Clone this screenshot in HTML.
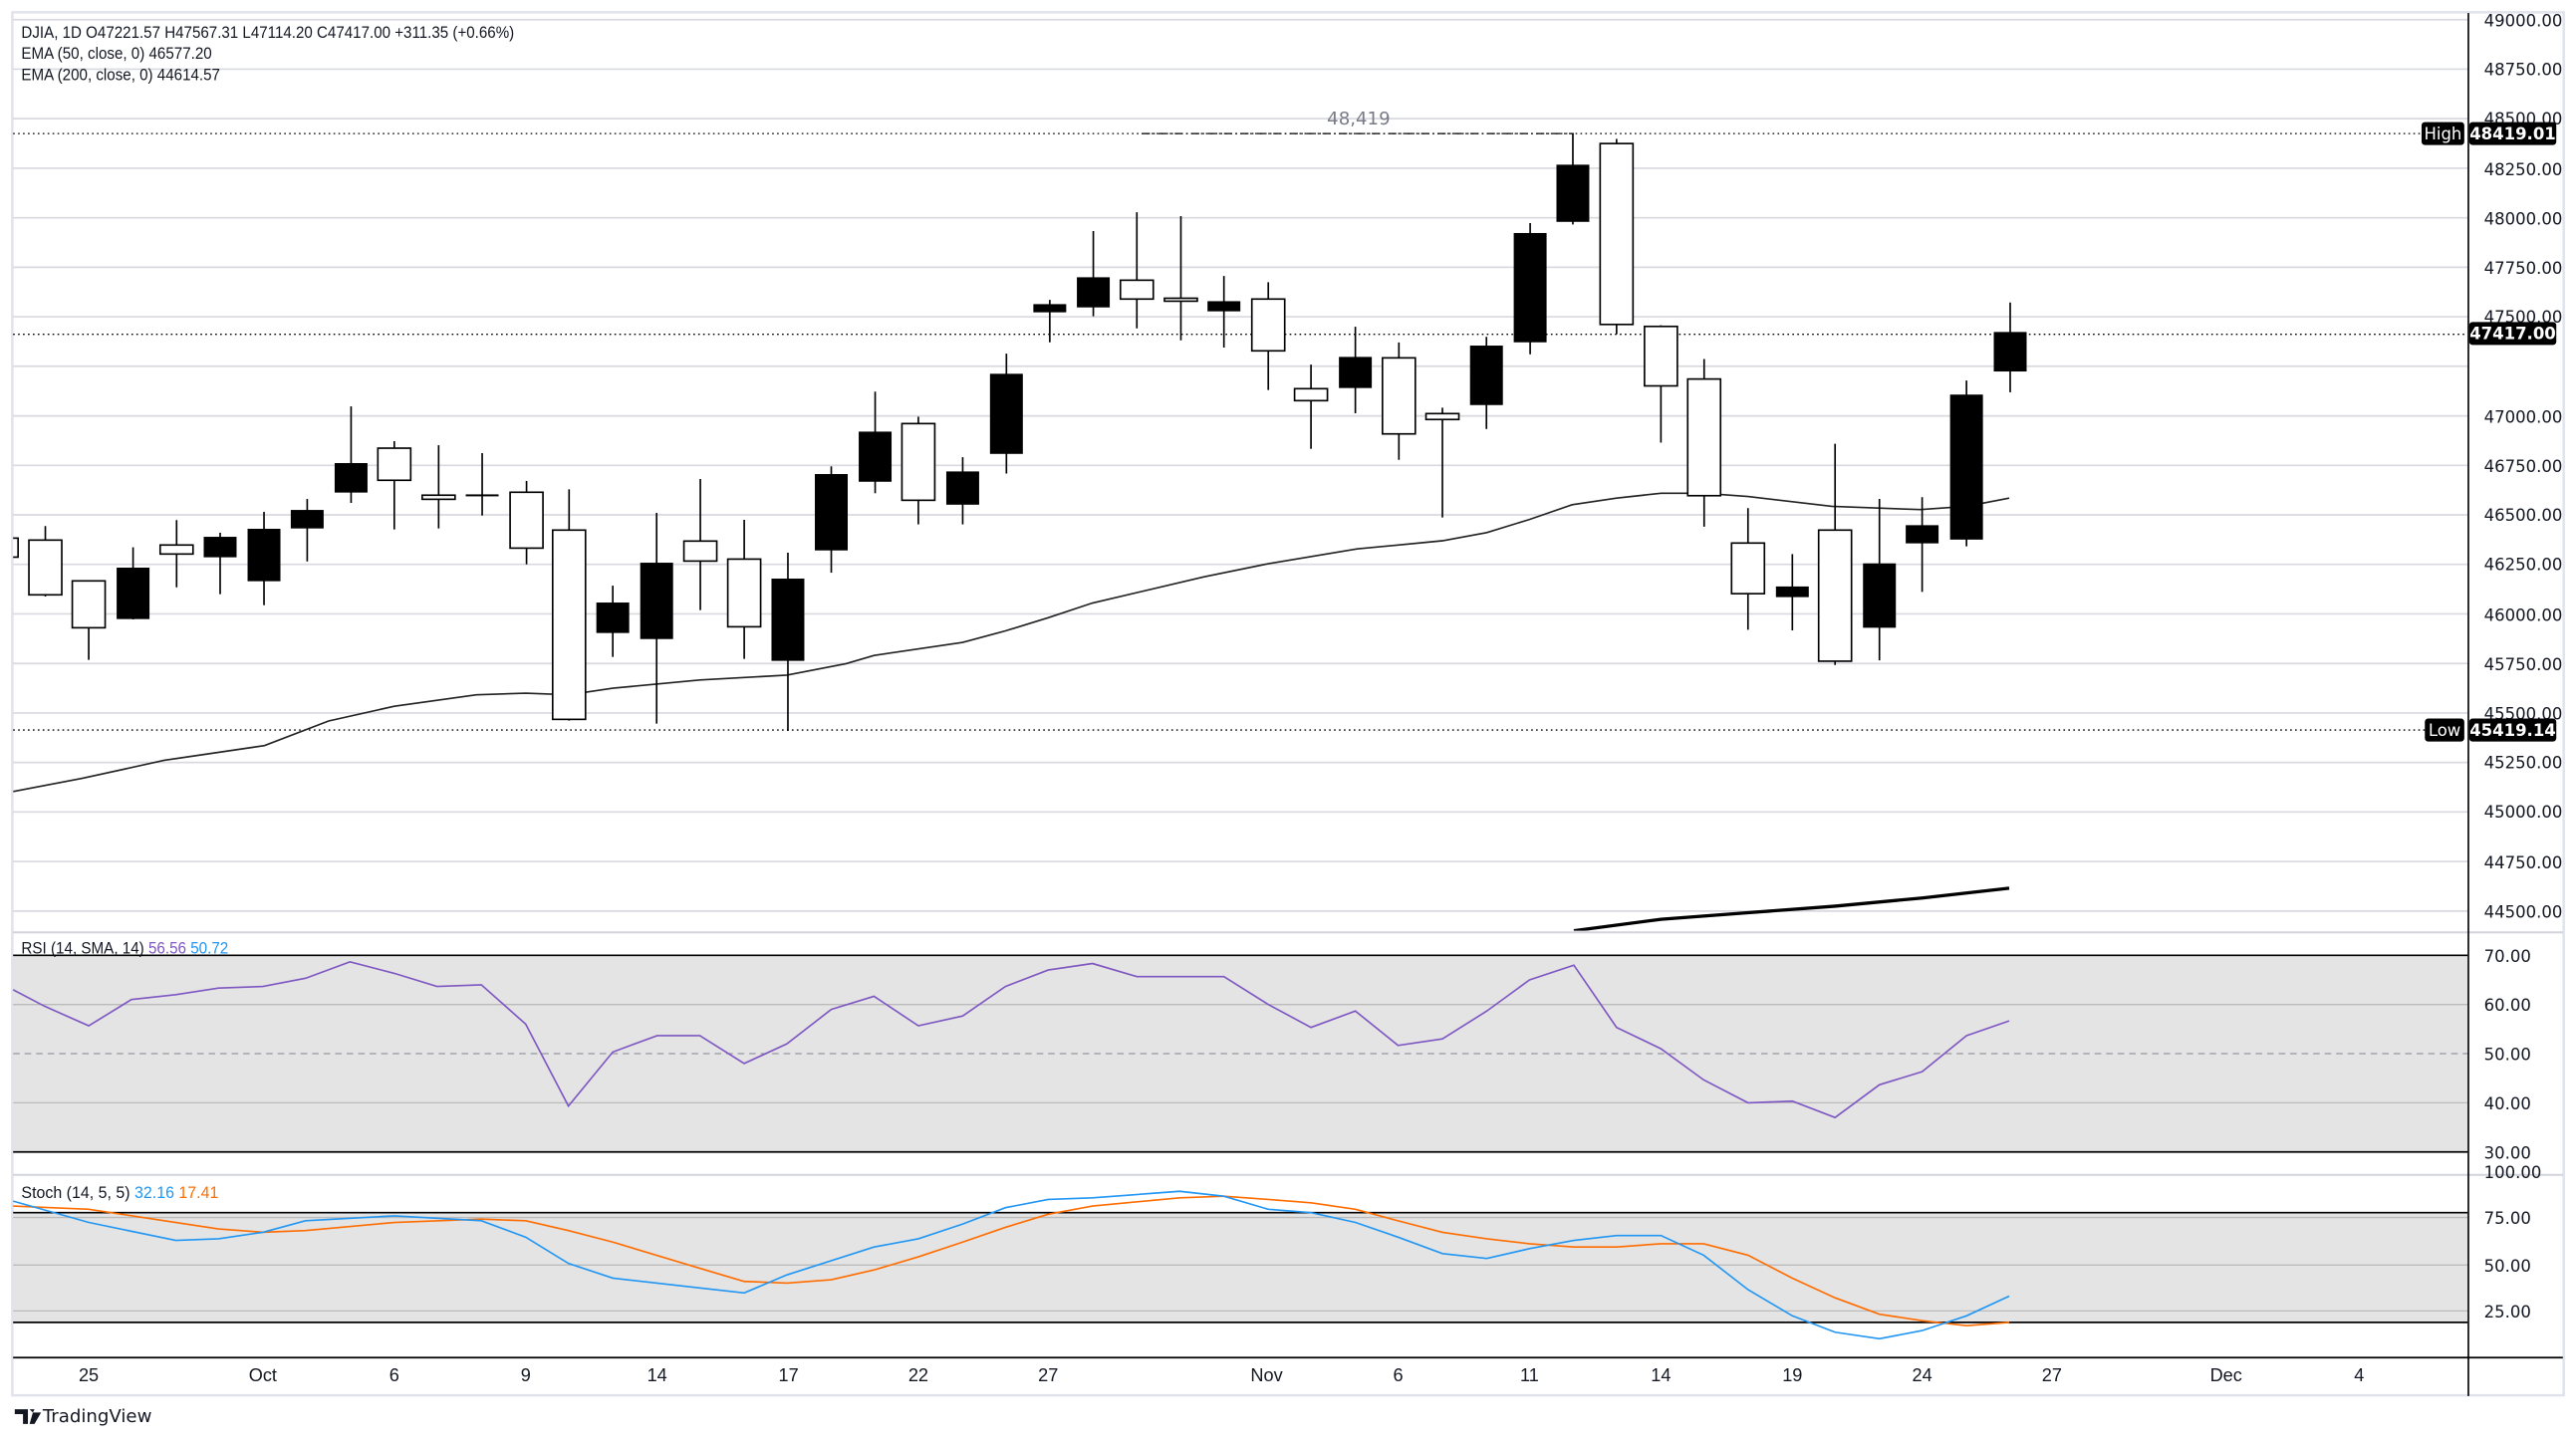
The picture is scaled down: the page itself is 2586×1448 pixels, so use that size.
<!DOCTYPE html>
<html><head><meta charset="utf-8"><style>
html,body{margin:0;padding:0;background:#fff;width:2586px;height:1448px;overflow:hidden}
svg{display:block}
text{font-family:"DejaVu Sans","Liberation Sans",sans-serif}
.ax{font-size:10px;fill:#131722}
.lg{font-family:"Liberation Sans",sans-serif;font-size:10px;fill:#131722}
.dt{font-family:"Liberation Sans",sans-serif;font-size:11px;fill:#131722;text-anchor:middle}
.g{stroke:#d8dae0;stroke-width:1}
.w{stroke:#000;stroke-width:1}
.h{fill:#fff;stroke:#000;stroke-width:1}
.f{fill:#000}
</style></head><body>
<svg width="2586" height="1448" viewBox="0 0 1568 880" preserveAspectRatio="none">
<defs><clipPath id="cp"><rect x="8" y="8" width="1494" height="560"/></clipPath></defs>
<rect x="0" y="0" width="1568" height="880" fill="#fff"/>
<rect x="7.5" y="7.5" width="1553" height="844" fill="none" stroke="#e0e3eb" stroke-width="1.5"/>
<g class="g">
<line x1="8" x2="1502" y1="12" y2="12"/><line x1="8" x2="1502" y1="42.2" y2="42.2"/><line x1="8" x2="1502" y1="72.4" y2="72.4"/><line x1="8" x2="1502" y1="102.7" y2="102.7"/><line x1="8" x2="1502" y1="132.9" y2="132.9"/><line x1="8" x2="1502" y1="163.1" y2="163.1"/><line x1="8" x2="1502" y1="193.3" y2="193.3"/><line x1="8" x2="1502" y1="223.5" y2="223.5"/><line x1="8" x2="1502" y1="253.8" y2="253.8"/><line x1="8" x2="1502" y1="284" y2="284"/><line x1="8" x2="1502" y1="314.2" y2="314.2"/><line x1="8" x2="1502" y1="344.4" y2="344.4"/><line x1="8" x2="1502" y1="374.6" y2="374.6"/><line x1="8" x2="1502" y1="404.9" y2="404.9"/><line x1="8" x2="1502" y1="435.1" y2="435.1"/><line x1="8" x2="1502" y1="465.3" y2="465.3"/><line x1="8" x2="1502" y1="495.5" y2="495.5"/><line x1="8" x2="1502" y1="525.7" y2="525.7"/><line x1="8" x2="1502" y1="556" y2="556"/>
</g>
<line x1="8" x2="1560" y1="569" y2="569" stroke="#d1d4dc" stroke-width="1.2"/>
<line x1="8" x2="1474" y1="81.5" y2="81.5" stroke="#000" stroke-width="0.8" stroke-dasharray="1,2"/>
<line x1="695" x2="958" y1="81.5" y2="81.5" stroke="#000" stroke-width="0.8" stroke-dasharray="5,2,1,2"/>
<text x="827" y="76" font-size="11" fill="#787b86" text-anchor="middle">48,419</text>
<line x1="8" x2="1502" y1="204" y2="204" stroke="#000" stroke-width="0.8" stroke-dasharray="1,2"/>
<line x1="8" x2="1476" y1="445.5" y2="445.5" stroke="#000" stroke-width="0.8" stroke-dasharray="1,2"/>
<g clip-path="url(#cp)">
<polyline fill="none" stroke="#222" stroke-width="1" points="8,483 50,475 100,464 161,455 200,440 240,431 290,424 320,423 346,424 373,420 426,415 479,412 515,405 532,400 586,392 612,385 638,377 665,368 733,352 772,344 826,335 878,330 905,325 931,317 957,308 984,304 1011,301 1037,301 1064,303 1115,309 1169,311 1197,309 1223,304"/>
<polyline fill="none" stroke="#000" stroke-width="2" points="958,568 1011,561 1064,557 1117,553 1170,548 1223,542"/>
<g class="w">
<line x1="27.6" x2="27.6" y1="321" y2="364"/><line x1="54" x2="54" y1="354" y2="402.7"/><line x1="81" x2="81" y1="334" y2="378"/><line x1="107.5" x2="107.5" y1="317.4" y2="358.4"/><line x1="134" x2="134" y1="325.1" y2="362.6"/><line x1="160.7" x2="160.7" y1="312.4" y2="369.3"/><line x1="187" x2="187" y1="304.5" y2="342.6"/><line x1="213.7" x2="213.7" y1="248" y2="306.9"/><line x1="240" x2="240" y1="269.2" y2="323.1"/><line x1="267" x2="267" y1="271.7" y2="322.5"/><line x1="293.5" x2="293.5" y1="276.5" y2="314.6"/><line x1="320.5" x2="320.5" y1="293.5" y2="344.4"/><line x1="346.4" x2="346.4" y1="298.6" y2="439.8"/><line x1="373" x2="373" y1="357.4" y2="400.9"/><line x1="399.7" x2="399.7" y1="313" y2="441.6"/><line x1="426.3" x2="426.3" y1="292.3" y2="372.3"/><line x1="453" x2="453" y1="317.2" y2="402.1"/><line x1="479.6" x2="479.6" y1="337.3" y2="446.1"/><line x1="506" x2="506" y1="284.6" y2="349.5"/><line x1="532.7" x2="532.7" y1="239" y2="301"/><line x1="559" x2="559" y1="254.3" y2="320"/><line x1="586" x2="586" y1="279" y2="320"/><line x1="612.6" x2="612.6" y1="215.8" y2="289"/><line x1="639" x2="639" y1="183" y2="208.9"/><line x1="665.5" x2="665.5" y1="141" y2="193"/><line x1="692" x2="692" y1="129.5" y2="200.4"/><line x1="718.8" x2="718.8" y1="131.9" y2="207.7"/><line x1="745" x2="745" y1="168.4" y2="212.1"/><line x1="772" x2="772" y1="172.2" y2="238"/><line x1="798" x2="798" y1="222.5" y2="273.9"/><line x1="825" x2="825" y1="199.4" y2="252.2"/><line x1="851.5" x2="851.5" y1="209" y2="280.6"/><line x1="878" x2="878" y1="248.8" y2="315.8"/><line x1="904.8" x2="904.8" y1="205.6" y2="261.8"/><line x1="931.4" x2="931.4" y1="136.1" y2="216.2"/><line x1="957.4" x2="957.4" y1="81.8" y2="137"/><line x1="984" x2="984" y1="84.8" y2="204"/><line x1="1011" x2="1011" y1="198.5" y2="270.1"/><line x1="1037.3" x2="1037.3" y1="219.1" y2="321.4"/><line x1="1064" x2="1064" y1="310.1" y2="384.3"/><line x1="1091" x2="1091" y1="338.1" y2="384.7"/><line x1="1117" x2="1117" y1="270.8" y2="405.8"/><line x1="1144" x2="1144" y1="304.5" y2="403"/><line x1="1170" x2="1170" y1="303.4" y2="361.2"/><line x1="1197" x2="1197" y1="232.2" y2="333.4"/><line x1="1223.6" x2="1223.6" y1="184.6" y2="239.4"/>
</g>
<rect class="h" x="-2" y="328.4" width="13" height="11.6"/>
<rect class="h" x="17.6" y="329.6" width="20" height="33.4"/>
<rect class="h" x="44" y="354.5" width="20" height="28.6"/>
<rect class="f" x="71" y="346.4" width="20" height="31.4"/>
<rect class="h" x="97.5" y="332.6" width="20" height="5.5"/>
<rect class="f" x="124" y="327.6" width="20" height="12.5"/>
<rect class="f" x="150.7" y="322.7" width="20" height="32"/>
<rect class="f" x="177" y="311.2" width="20" height="11.3"/>
<rect class="f" x="203.7" y="282.6" width="20" height="18"/>
<rect class="h" x="230" y="273.5" width="20" height="19.6"/>
<rect class="h" x="257" y="302.2" width="20" height="2.5"/>
<rect class="f" x="283.5" y="301.7" width="20" height="1.2"/>
<rect class="h" x="310.5" y="300.4" width="20" height="34.1"/>
<rect class="h" x="336.4" y="323.5" width="20" height="115.5"/>
<rect class="f" x="363" y="367.7" width="20" height="18.6"/>
<rect class="f" x="389.7" y="343.4" width="20" height="46.6"/>
<rect class="h" x="416.3" y="330.2" width="20" height="12.2"/>
<rect class="h" x="443" y="341.2" width="20" height="41.3"/>
<rect class="f" x="469.6" y="353.1" width="20" height="50.2"/>
<rect class="f" x="496" y="289.3" width="20" height="46.6"/>
<rect class="f" x="522.7" y="263.4" width="20" height="30.6"/>
<rect class="h" x="549" y="258.5" width="20" height="46.8"/>
<rect class="f" x="576" y="287.7" width="20" height="20.3"/>
<rect class="f" x="602.6" y="228.1" width="20" height="48.9"/>
<rect class="f" x="629" y="185.6" width="20" height="5"/>
<rect class="f" x="655.5" y="169.2" width="20" height="18.4"/>
<rect class="h" x="682" y="171" width="20" height="11.5"/>
<rect class="h" x="708.8" y="182" width="20" height="1.8"/>
<rect class="f" x="735" y="183.8" width="20" height="6.2"/>
<rect class="h" x="762" y="182.5" width="20" height="31.6"/>
<rect class="h" x="788" y="237.2" width="20" height="7.3"/>
<rect class="f" x="815" y="217.8" width="20" height="19"/>
<rect class="h" x="841.5" y="218.4" width="20" height="46.4"/>
<rect class="h" x="868" y="252.4" width="20" height="3.6"/>
<rect class="f" x="894.8" y="210.9" width="20" height="36.3"/>
<rect class="f" x="921.4" y="142.2" width="20" height="66.7"/>
<rect class="f" x="947.4" y="100.5" width="20" height="34.9"/>
<rect class="h" x="974" y="87.6" width="20" height="110.4"/>
<rect class="h" x="1001" y="199.2" width="20" height="36.3"/>
<rect class="h" x="1027.3" y="231.3" width="20" height="71.2"/>
<rect class="h" x="1054" y="331.4" width="20" height="30.9"/>
<rect class="f" x="1081" y="357.9" width="20" height="6.5"/>
<rect class="h" x="1107" y="323.5" width="20" height="80"/>
<rect class="f" x="1134" y="343.8" width="20" height="39.3"/>
<rect class="f" x="1160" y="320.5" width="20" height="11.1"/>
<rect class="f" x="1187" y="240.8" width="20" height="88.5"/>
<rect class="f" x="1213.6" y="202.6" width="20" height="24.1"/>
</g>
<text class="lg" x="13" y="23" textLength="300" lengthAdjust="spacingAndGlyphs">DJIA, 1D  O47221.57  H47567.31  L47114.20  C47417.00  +311.35 (+0.66%)</text>
<text class="lg" x="13" y="36" textLength="116" lengthAdjust="spacingAndGlyphs">EMA (50, close, 0)  46577.20</text>
<text class="lg" x="13" y="49" textLength="121" lengthAdjust="spacingAndGlyphs">EMA (200, close, 0)  44614.57</text>
<rect x="8" y="583" width="1494" height="120" fill="#e4e4e4"/>
<line x1="8" x2="1502" y1="613" y2="613" stroke="#bbb" stroke-width="0.8"/>
<line x1="8" x2="1502" y1="673" y2="673" stroke="#bbb" stroke-width="0.8"/>
<line x1="8" x2="1502" y1="643" y2="643" stroke="#9598a1" stroke-width="0.8" stroke-dasharray="4,3"/>
<line x1="8" x2="1502" y1="583" y2="583" stroke="#000" stroke-width="1"/>
<line x1="8" x2="1502" y1="703" y2="703" stroke="#000" stroke-width="1"/>
<polyline fill="none" stroke="#7e57c2" stroke-width="1" points="8,604 27,614 54,626 80,610 107,607 133,603 160,602 186,597 213,587 240,594 266,602 293,601 320,625 346,675 373,642 400,632 426,632 453,649 479,637 506,616 532,608 559,626 586,620 612,602 638,592 665,588 692,596 718,596 745,596 772,613 798,627 825,617 851,638 878,634 905,617 931,598 958,589 984,627 1011,640 1037,659 1064,673 1091,672 1117,682 1144,662 1170,654 1197,632 1223,623"/>
<text class="lg" x="13" y="582" textLength="126" lengthAdjust="spacingAndGlyphs">RSI (14, SMA, 14)  <tspan fill="#7e57c2">56.56</tspan>  <tspan fill="#2196f3">50.72</tspan></text>
<line x1="8" x2="1560" y1="717" y2="717" stroke="#d1d4dc" stroke-width="1.2"/>
<rect x="8" y="740" width="1494" height="67" fill="#e4e4e4"/>
<line x1="8" x2="1502" y1="743" y2="743" stroke="#bbb" stroke-width="0.8"/>
<line x1="8" x2="1502" y1="772" y2="772" stroke="#bbb" stroke-width="0.8"/>
<line x1="8" x2="1502" y1="800" y2="800" stroke="#bbb" stroke-width="0.8"/>
<line x1="8" x2="1502" y1="740" y2="740" stroke="#000" stroke-width="1"/>
<line x1="8" x2="1502" y1="807" y2="807" stroke="#000" stroke-width="1"/>
<polyline fill="none" stroke="#ff6d00" stroke-width="1" points="8,736 54,738 107,746 133,750 160,752 186,751 240,746 293,744 320,745 346,751 373,758 426,774 453,782 479,783 506,781 532,775 559,767 586,758 612,749 638,741 665,736 718,731 745,730 772,732 798,734 825,738 851,745 878,752 905,756 931,759 958,761 984,761 1011,759 1037,759 1064,766 1091,780 1117,792 1144,802 1170,806 1197,809 1223,807"/>
<polyline fill="none" stroke="#2196f3" stroke-width="1" points="8,733 54,746 107,757 133,756 160,752 186,745 240,742 293,745 320,755 346,771 373,780 426,786 453,789 479,778 532,761 559,756 586,747 612,737 638,732 665,731 718,727 745,730 772,738 798,740 825,746 851,755 878,765 905,768 931,762 958,757 984,754 1011,754 1037,766 1064,787 1091,803 1117,813 1144,817 1170,812 1197,803 1223,791"/>
<text class="lg" x="13" y="731" textLength="120" lengthAdjust="spacingAndGlyphs">Stoch (14, 5, 5)  <tspan fill="#2196f3">32.16</tspan>  <tspan fill="#ff6d00">17.41</tspan></text>
<line x1="8" x2="1560" y1="828.5" y2="828.5" stroke="#000" stroke-width="1"/>
<line x1="1502.5" x2="1502.5" y1="8" y2="852" stroke="#000" stroke-width="1"/>
<text class="dt" x="54" y="843">25</text><text class="dt" x="160" y="843">Oct</text><text class="dt" x="240" y="843">6</text><text class="dt" x="320" y="843">9</text><text class="dt" x="400" y="843">14</text><text class="dt" x="480" y="843">17</text><text class="dt" x="559" y="843">22</text><text class="dt" x="638" y="843">27</text><text class="dt" x="771" y="843">Nov</text><text class="dt" x="851" y="843">6</text><text class="dt" x="931" y="843">11</text><text class="dt" x="1011" y="843">14</text><text class="dt" x="1091" y="843">19</text><text class="dt" x="1170" y="843">24</text><text class="dt" x="1249" y="843">27</text><text class="dt" x="1355" y="843">Dec</text><text class="dt" x="1436" y="843">4</text>
<g class="ax">
<text x="1512" y="16">49000.00</text><text x="1512" y="46">48750.00</text><text x="1512" y="76">48500.00</text><text x="1512" y="107">48250.00</text><text x="1512" y="137">48000.00</text><text x="1512" y="167">47750.00</text><text x="1512" y="197">47500.00</text><text x="1512" y="258">47000.00</text><text x="1512" y="288">46750.00</text><text x="1512" y="318">46500.00</text><text x="1512" y="348">46250.00</text><text x="1512" y="379">46000.00</text><text x="1512" y="409">45750.00</text><text x="1512" y="439">45500.00</text><text x="1512" y="469">45250.00</text><text x="1512" y="499">45000.00</text><text x="1512" y="530">44750.00</text><text x="1512" y="560">44500.00</text>
<text x="1512" y="587">70.00</text><text x="1512" y="617">60.00</text><text x="1512" y="647">50.00</text><text x="1512" y="677">40.00</text><text x="1512" y="707">30.00</text>
<text x="1512" y="719">100.00</text><text x="1512" y="747">75.00</text><text x="1512" y="776">50.00</text><text x="1512" y="804">25.00</text>
</g>
<rect x="1474" y="74.5" width="26" height="14" rx="2" fill="#000"/><text x="1487" y="85" font-size="10" fill="#fff" text-anchor="middle">High</text>
<rect x="1503" y="74.5" width="53" height="14" rx="2" fill="#000"/><text x="1529.5" y="85" font-size="10" fill="#fff" text-anchor="middle" font-weight="bold">48419.01</text>
<rect x="1503" y="196.5" width="53" height="14" rx="2" fill="#000"/><text x="1529.5" y="207" font-size="10" fill="#fff" text-anchor="middle" font-weight="bold">47417.00</text>
<rect x="1476" y="438.5" width="24" height="14" rx="2" fill="#000"/><text x="1488" y="449" font-size="10" fill="#fff" text-anchor="middle">Low</text>
<rect x="1503" y="438.5" width="53" height="14" rx="2" fill="#000"/><text x="1529.5" y="449" font-size="10" fill="#fff" text-anchor="middle" font-weight="bold">45419.14</text>
<path d="M9 860 h8 v9 h-3 v-6 h-5 z M18 860 h3 l-1 2 z M20 862 h5 l-4 7 h-3 z" fill="#131722"/>
<text x="26" y="868" font-family="Liberation Sans, sans-serif" font-size="11" fill="#131722">TradingView</text>
</svg>
</body></html>
